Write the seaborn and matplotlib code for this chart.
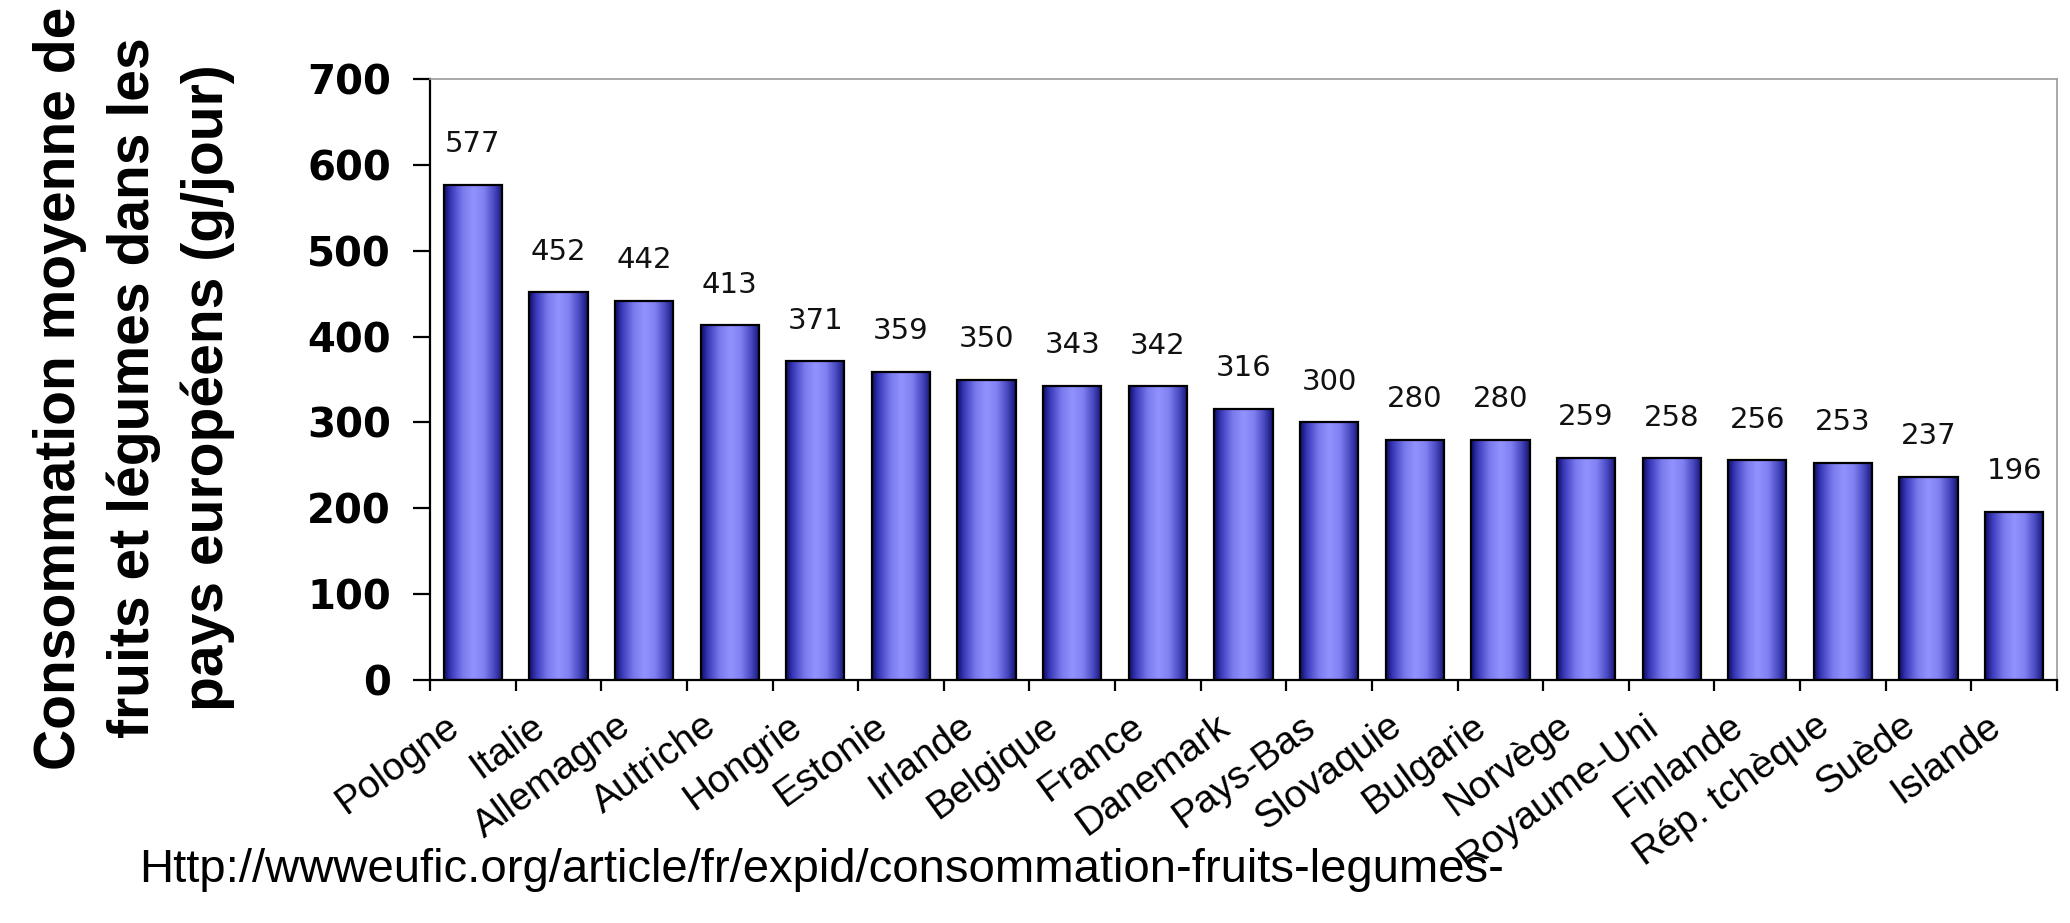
import numpy as np
import pandas as pd
import matplotlib
matplotlib.use("Agg")
import matplotlib.pyplot as plt
import matplotlib.transforms as mtransforms
from matplotlib.colors import LinearSegmentedColormap
import seaborn as sns

# Average fruit & vegetable consumption per country (g/day)
countries = ["Pologne", "Italie", "Allemagne", "Autriche", "Hongrie", "Estonie",
             "Irlande", "Belgique", "France", "Danemark", "Pays-Bas", "Slovaquie",
             "Bulgarie", "Norvège", "Royaume-Uni", "Finlande", "Rép. tchèque",
             "Suède", "Islande"]
consumption = [577, 452, 442, 413, 371, 359, 350, 343, 342, 316, 300, 280,
               280, 259, 258, 256, 253, 237, 196]
y_ticks = [0, 100, 200, 300, 400, 500, 600, 700]

y_label = "Consommation moyenne de\nfruits et légumes dans les\npays européens (g/jour)"
source = "Http://wwweufic.org/article/fr/expid/consommation-fruits-legumes-"

df = pd.DataFrame({"pays": countries, "conso": consumption})

sns.set_theme(style="white")
plt.rcParams["font.family"] = ["Liberation Sans", "DejaVu Sans"]

W, H = 2070, 923
fig = plt.figure(figsize=(W / 100, H / 100), dpi=100)
ax = fig.add_axes([430 / W, 1 - 680 / H, (2057 - 430) / W, (680 - 79) / H])

sns.barplot(data=df, x="pays", y="conso", ax=ax, width=0.68, color="#7878ee",
            edgecolor="black", linewidth=1.6, saturation=1)

# Cylinder-like horizontal shading inside each bar
shade = LinearSegmentedColormap.from_list(
    "shade",
    [(0.0, "#0c0c66"), (0.12, "#3a3aba"), (0.32, "#7a7aee"), (0.5, "#9292ff"),
     (0.68, "#8080f2"), (0.86, "#4646be"), (1.0, "#121270")])
grad = np.linspace(0, 1, 256).reshape(1, -1)
for p in ax.patches:
    x0, y0 = p.get_x(), p.get_y()
    w, h = p.get_width(), p.get_height()
    im = ax.imshow(grad, cmap=shade, extent=[x0, x0 + w, y0, y0 + h],
                   aspect="auto", zorder=1.5, interpolation="bilinear")
    im.set_clip_path(p)
    p.set_facecolor("none")
    p.set_zorder(2)

ax.set_xlim(-0.5, len(countries) - 0.5)
ax.set_ylim(0, 700)

# Value labels above each bar
for cont in ax.containers:
    ax.bar_label(cont, labels=[str(v) for v in consumption], padding=19,
                 fontsize=21, family="DejaVu Sans", color="#111111")

# Axes frame: solid left/bottom, dotted grey top/right
for side in ["left", "bottom"]:
    ax.spines[side].set_color("black")
    ax.spines[side].set_linewidth(1.6)
for side in ["top", "right"]:
    ax.spines[side].set_color("#9a9a9a")
    ax.spines[side].set_linestyle((0, (1, 1)))
    ax.spines[side].set_linewidth(1.2)

ax.set_yticks(y_ticks)
ax.set_yticklabels([str(t) for t in y_ticks], fontsize=29, fontweight="bold",
                   family="DejaVu Sans")
ax.tick_params(axis="y", direction="out", length=12, width=1.6, pad=16,
               left=True, colors="black")

# Category ticks sit between bars; labels sit under bar centres
ax.set_xticks(np.arange(-0.5, len(countries), 1.0), minor=True)
ax.tick_params(axis="x", which="minor", direction="out", length=8, width=1.6,
               bottom=True, colors="black")
ax.set_xticks(np.arange(len(countries)))
ax.set_xticklabels(countries, rotation=36, ha="right", va="top",
                   rotation_mode="anchor", fontsize=28, color="black")
ax.tick_params(axis="x", which="major", length=0, pad=20, labelcolor="black")
offset = mtransforms.ScaledTranslation(-28 / 100, 0, fig.dpi_scale_trans)
for lab in ax.get_xticklabels():
    lab.set_transform(lab.get_transform() + offset)

ax.set_xlabel("")
ax.set_ylabel("")

fig.text(134 / W, 1 - 388 / H, y_label, rotation=90, ha="center", va="center",
         multialignment="center", fontsize=41, fontweight="bold",
         linespacing=1.45, color="black")

fig.text(139 / W, 1 - 882 / H, source, ha="left", va="baseline", fontsize=34,
         color="black")

fig.savefig("out.png", dpi=100, facecolor="white")
